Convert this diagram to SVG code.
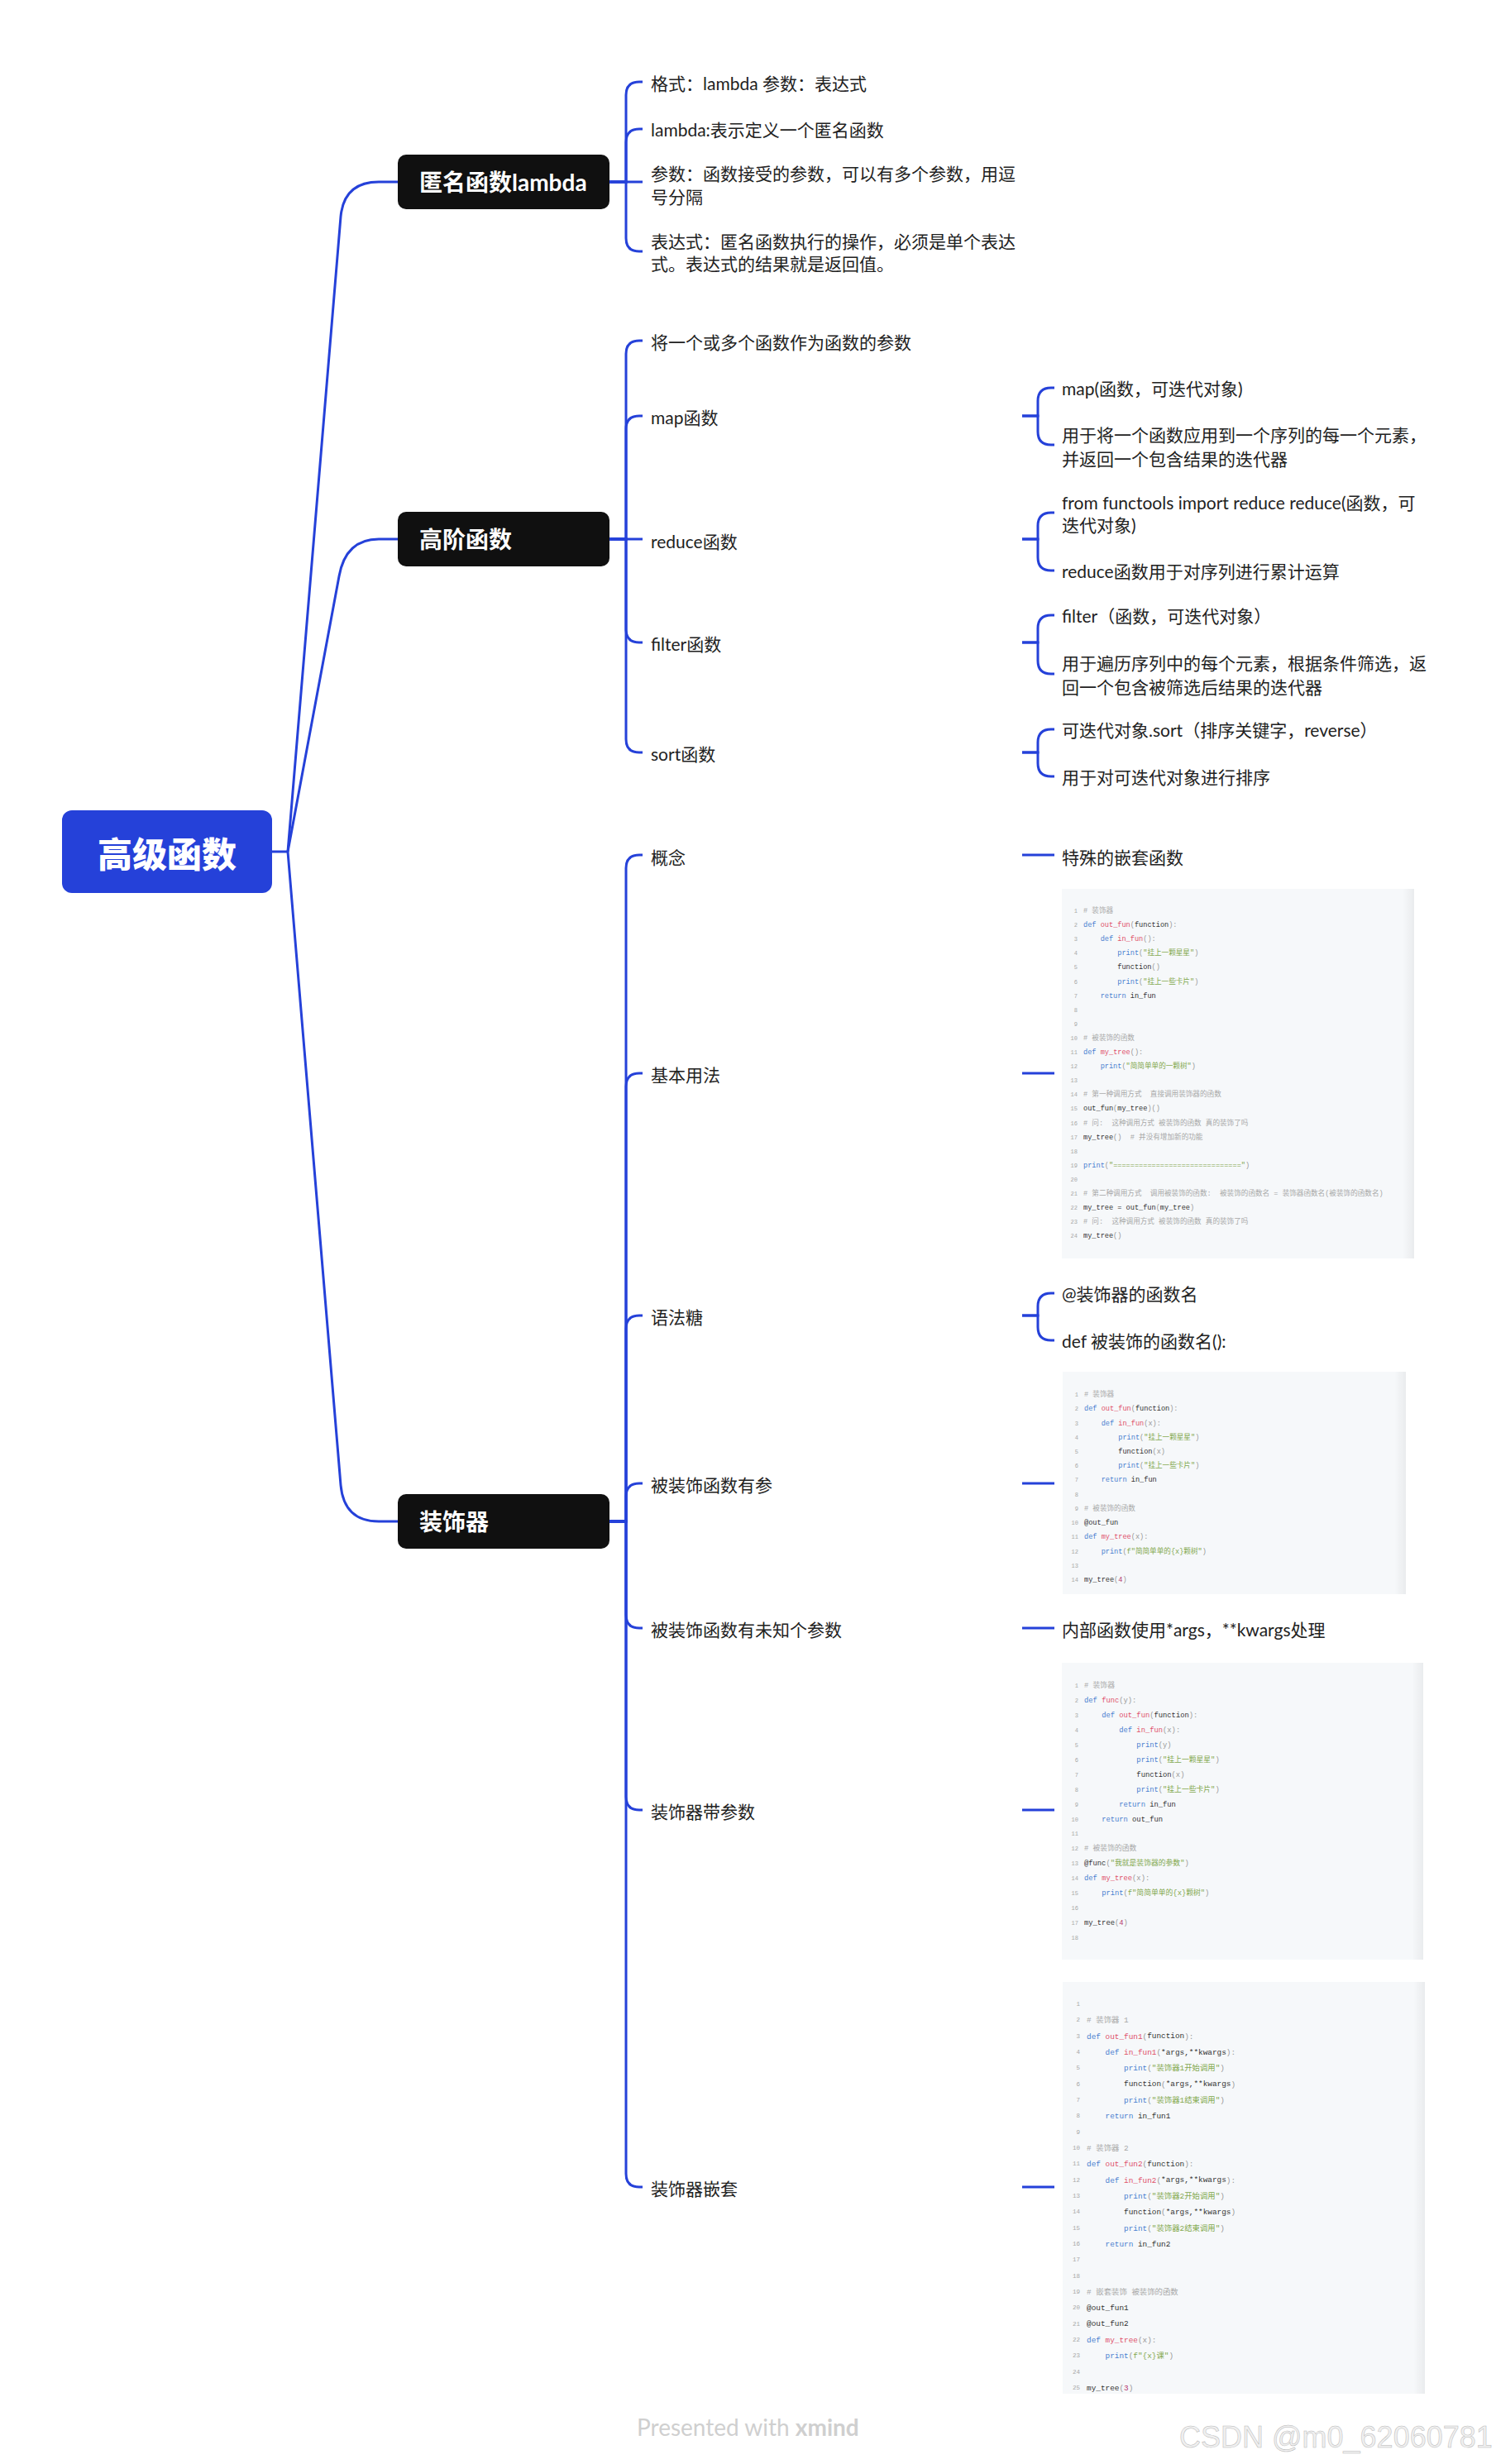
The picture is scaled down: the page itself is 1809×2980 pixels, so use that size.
<svg xmlns="http://www.w3.org/2000/svg" width="1809" height="2980" viewBox="0 0 1809 2980">
<style>
.ln{fill:none;stroke:#2541d9;stroke-width:3}
.t{font-family:Lato,"Noto Sans CJK SC",sans-serif;font-size:21px;fill:#222;dominant-baseline:central}
.bx{fill:#101010}
.bt{font-family:Lato,"Noto Sans CJK SC",sans-serif;font-size:28px;font-weight:700;fill:#fff;dominant-baseline:central}
.rt{font-family:"Noto Sans CJK SC",sans-serif;font-size:42px;font-weight:900;fill:#fff;dominant-baseline:central;text-anchor:middle}
.cb{fill:#f6f8fa}
.cd{font-family:"Liberation Mono","Noto Sans CJK SC",monospace;fill:#333;dominant-baseline:central;white-space:pre}
.k{fill:#4a7fd0}.f{fill:#e0516b}.s{fill:#83a84e}.c{fill:#a8a8a8}.p{fill:#999}.n{fill:#b5386f}
.nm{font-family:"Liberation Mono",monospace;font-size:7px;fill:#a8a8a8;text-anchor:end;dominant-baseline:central}
</style>
<defs>
<linearGradient id="sh" x1="0" y1="0" x2="1" y2="0">
<stop offset="0" stop-color="#000" stop-opacity="0"/>
<stop offset="1" stop-color="#000" stop-opacity="0.05"/>
</linearGradient>
</defs>
<rect width="1809" height="2980" fill="#fff"/>

<g id="connectors">
<path class="ln" d="M329,1030 H348"/>
<path class="ln" d="M348,1030 L412,262 Q416,220 458,220 H481"/>
<path class="ln" d="M348,1030 L410,697 Q418,652 458,652 H481"/>
<path class="ln" d="M348,1030 L412,1796 Q416,1840 458,1840 H481"/>
<path class="ln" d="M737,220 H757 V115 Q757,99 773,99 H777"/>
<path class="ln" d="M737,220 H757 V172 Q757,156 773,156 H777"/>
<path class="ln" d="M737,220 H777"/>
<path class="ln" d="M737,220 H757 V288 Q757,304 773,304 H777"/>
<path class="ln" d="M737,652 H757 V428 Q757,412 773,412 H777"/>
<path class="ln" d="M737,652 H757 V519 Q757,503 773,503 H777"/>
<path class="ln" d="M737,652 H777"/>
<path class="ln" d="M737,652 H757 V761 Q757,777 773,777 H777"/>
<path class="ln" d="M737,652 H757 V894 Q757,910 773,910 H777"/>
<path class="ln" d="M737,1840 H757 V1050 Q757,1034 773,1034 H777"/>
<path class="ln" d="M737,1840 H757 V1314 Q757,1298 773,1298 H777"/>
<path class="ln" d="M737,1840 H757 V1607 Q757,1591 773,1591 H777"/>
<path class="ln" d="M737,1840 H757 V1810 Q757,1794 773,1794 H777"/>
<path class="ln" d="M737,1840 H757 V1953 Q757,1969 773,1969 H777"/>
<path class="ln" d="M737,1840 H757 V2173 Q757,2189 773,2189 H777"/>
<path class="ln" d="M737,1840 H757 V2629 Q757,2645 773,2645 H777"/>
<path class="ln" d="M1236,503 H1255 V485 Q1255,469 1271,469 H1275"/>
<path class="ln" d="M1236,503 H1255 V522 Q1255,538 1271,538 H1275"/>
<path class="ln" d="M1236,652 H1255 V636 Q1255,620 1271,620 H1275"/>
<path class="ln" d="M1236,652 H1255 V674 Q1255,690 1271,690 H1275"/>
<path class="ln" d="M1236,777 H1255 V760 Q1255,744 1271,744 H1275"/>
<path class="ln" d="M1236,777 H1255 V799 Q1255,815 1271,815 H1275"/>
<path class="ln" d="M1236,910 H1255 V898 Q1255,882 1271,882 H1275"/>
<path class="ln" d="M1236,910 H1255 V923 Q1255,939 1271,939 H1275"/>
<path class="ln" d="M1236,1034 H1275"/>
<path class="ln" d="M1236,1298 H1275"/>
<path class="ln" d="M1236,1591 H1255 V1580 Q1255,1564 1271,1564 H1275"/>
<path class="ln" d="M1236,1591 H1255 V1605 Q1255,1621 1271,1621 H1275"/>
<path class="ln" d="M1236,1794 H1275"/>
<path class="ln" d="M1236,1969 H1275"/>
<path class="ln" d="M1236,2189 H1275"/>
<path class="ln" d="M1236,2645 H1275"/>
</g>

<g id="root">
<rect x="75" y="980" width="254" height="100" rx="12" fill="#2541d9"/>
<text class="rt" x="202" y="1030">高级函数</text>
</g>

<g id="lambda">
<rect class="bx" x="481" y="187" width="256" height="66" rx="10"/>
<text class="bt" x="507" y="220">匿名函数lambda</text>
</g>
<g id="lambda-c1"><text class="t" x="787" y="100">格式：lambda 参数：表达式</text></g>
<g id="lambda-c2"><text class="t" x="787" y="156">lambda:表示定义一个匿名函数</text></g>
<g id="lambda-c3"><text class="t" x="787" y="209">参数：函数接受的参数，可以有多个参数，用逗</text><text class="t" x="787" y="237">号分隔</text></g>
<g id="lambda-c4"><text class="t" x="787" y="291">表达式：匿名函数执行的操作，必须是单个表达</text><text class="t" x="787" y="318">式。表达式的结果就是返回值。</text></g>

<g id="higher">
<rect class="bx" x="481" y="619" width="256" height="66" rx="10"/>
<text class="bt" x="507" y="652">高阶函数</text>
</g>
<g id="h-c1"><text class="t" x="787" y="413">将一个或多个函数作为函数的参数</text></g>
<g id="h-map"><text class="t" x="787" y="504">map函数</text></g>
<g id="h-reduce"><text class="t" x="787" y="654">reduce函数</text></g>
<g id="h-filter"><text class="t" x="787" y="778">filter函数</text></g>
<g id="h-sort"><text class="t" x="787" y="911">sort函数</text></g>
<g id="map-1"><text class="t" x="1284" y="469">map(函数，可迭代对象)</text></g>
<g id="map-2"><text class="t" x="1284" y="525">用于将一个函数应用到一个序列的每一个元素，</text><text class="t" x="1284" y="554">并返回一个包含结果的迭代器</text></g>
<g id="reduce-1"><text class="t" x="1284" y="607">from functools import reduce reduce(函数，可</text><text class="t" x="1284" y="634">迭代对象)</text></g>
<g id="reduce-2"><text class="t" x="1284" y="690">reduce函数用于对序列进行累计运算</text></g>
<g id="filter-1"><text class="t" x="1284" y="744">filter（函数，可迭代对象）</text></g>
<g id="filter-2"><text class="t" x="1284" y="801">用于遍历序列中的每个元素，根据条件筛选，返</text><text class="t" x="1284" y="830">回一个包含被筛选后结果的迭代器</text></g>
<g id="sort-1"><text class="t" x="1284" y="882">可迭代对象.sort（排序关键字，reverse）</text></g>
<g id="sort-2"><text class="t" x="1284" y="939">用于对可迭代对象进行排序</text></g>

<g id="decorator">
<rect class="bx" x="481" y="1807" width="256" height="66" rx="10"/>
<text class="bt" x="507" y="1840">装饰器</text>
</g>
<g id="d-concept"><text class="t" x="787" y="1036">概念</text></g>
<g id="d-basic"><text class="t" x="787" y="1299">基本用法</text></g>
<g id="d-sugar"><text class="t" x="787" y="1592">语法糖</text></g>
<g id="d-param"><text class="t" x="787" y="1795">被装饰函数有参</text></g>
<g id="d-unknown"><text class="t" x="787" y="1970">被装饰函数有未知个参数</text></g>
<g id="d-decparam"><text class="t" x="787" y="2190">装饰器带参数</text></g>
<g id="d-nest"><text class="t" x="787" y="2646">装饰器嵌套</text></g>
<g id="concept-1"><text class="t" x="1284" y="1036">特殊的嵌套函数</text></g>
<g id="sugar-1"><text class="t" x="1284" y="1564">@装饰器的函数名</text></g>
<g id="sugar-2"><text class="t" x="1284" y="1621">def 被装饰的函数名():</text></g>
<g id="unknown-1"><text class="t" x="1284" y="1970">内部函数使用*args，**kwargs处理</text></g>

<g id="code-basic" font-size="8.6">
<rect class="cb" x="1284" y="1075" width="426" height="447"/>
<rect x="1696" y="1075" width="14" height="447" fill="url(#sh)"/>
<text class="nm"><tspan x="1303" y="1102">1</tspan><tspan x="1303" y="1119.1">2</tspan><tspan x="1303" y="1136.2">3</tspan><tspan x="1303" y="1153.3">4</tspan><tspan x="1303" y="1170.4">5</tspan><tspan x="1303" y="1187.5">6</tspan><tspan x="1303" y="1204.6">7</tspan><tspan x="1303" y="1221.7">8</tspan><tspan x="1303" y="1238.8">9</tspan><tspan x="1303" y="1255.9">10</tspan><tspan x="1303" y="1273">11</tspan><tspan x="1303" y="1290.1">12</tspan><tspan x="1303" y="1307.2">13</tspan><tspan x="1303" y="1324.3">14</tspan><tspan x="1303" y="1341.4">15</tspan><tspan x="1303" y="1358.5">16</tspan><tspan x="1303" y="1375.6">17</tspan><tspan x="1303" y="1392.7">18</tspan><tspan x="1303" y="1409.8">19</tspan><tspan x="1303" y="1426.9">20</tspan><tspan x="1303" y="1444">21</tspan><tspan x="1303" y="1461.1">22</tspan><tspan x="1303" y="1478.2">23</tspan><tspan x="1303" y="1495.3">24</tspan></text>
<text class="cd" xml:space="preserve" x="1310" y="1102"><tspan class="c"># 装饰器</tspan></text>
<text class="cd" xml:space="preserve" x="1310" y="1119.1"><tspan class="k">def</tspan> <tspan class="f">out_fun</tspan><tspan class="p">(</tspan>function<tspan class="p">):</tspan></text>
<text class="cd" xml:space="preserve" x="1310" y="1136.2">    <tspan class="k">def</tspan> <tspan class="f">in_fun</tspan><tspan class="p">():</tspan></text>
<text class="cd" xml:space="preserve" x="1310" y="1153.3">        <tspan class="k">print</tspan><tspan class="p">(</tspan><tspan class="s">"挂上一颗星星"</tspan><tspan class="p">)</tspan></text>
<text class="cd" xml:space="preserve" x="1310" y="1170.4">        function<tspan class="p">()</tspan></text>
<text class="cd" xml:space="preserve" x="1310" y="1187.5">        <tspan class="k">print</tspan><tspan class="p">(</tspan><tspan class="s">"挂上一些卡片"</tspan><tspan class="p">)</tspan></text>
<text class="cd" xml:space="preserve" x="1310" y="1204.6">    <tspan class="k">return</tspan> in_fun</text>
<text class="cd" xml:space="preserve" x="1310" y="1255.9"><tspan class="c"># 被装饰的函数</tspan></text>
<text class="cd" xml:space="preserve" x="1310" y="1273"><tspan class="k">def</tspan> <tspan class="f">my_tree</tspan><tspan class="p">():</tspan></text>
<text class="cd" xml:space="preserve" x="1310" y="1290.1">    <tspan class="k">print</tspan><tspan class="p">(</tspan><tspan class="s">"简简单单的一颗树"</tspan><tspan class="p">)</tspan></text>
<text class="cd" xml:space="preserve" x="1310" y="1324.3"><tspan class="c"># 第一种调用方式  直接调用装饰器的函数</tspan></text>
<text class="cd" xml:space="preserve" x="1310" y="1341.4">out_fun<tspan class="p">(</tspan>my_tree<tspan class="p">)()</tspan></text>
<text class="cd" xml:space="preserve" x="1310" y="1358.5"><tspan class="c"># 问:  这种调用方式 被装饰的函数 真的装饰了吗</tspan></text>
<text class="cd" xml:space="preserve" x="1310" y="1375.6">my_tree<tspan class="p">()</tspan>  <tspan class="c"># 并没有增加新的功能</tspan></text>
<text class="cd" xml:space="preserve" x="1310" y="1409.8"><tspan class="k">print</tspan><tspan class="p">(</tspan><tspan class="s">"=============================="</tspan><tspan class="p">)</tspan></text>
<text class="cd" xml:space="preserve" x="1310" y="1444"><tspan class="c"># 第二种调用方式  调用被装饰的函数:  被装饰的函数名 = 装饰器函数名(被装饰的函数名)</tspan></text>
<text class="cd" xml:space="preserve" x="1310" y="1461.1">my_tree = out_fun<tspan class="p">(</tspan>my_tree<tspan class="p">)</tspan></text>
<text class="cd" xml:space="preserve" x="1310" y="1478.2"><tspan class="c"># 问:  这种调用方式 被装饰的函数 真的装饰了吗</tspan></text>
<text class="cd" xml:space="preserve" x="1310" y="1495.3">my_tree<tspan class="p">()</tspan></text>
</g>

<g id="code-param" font-size="8.6">
<rect class="cb" x="1285" y="1659" width="415" height="269"/>
<rect x="1686" y="1659" width="14" height="269" fill="url(#sh)"/>
<text class="nm"><tspan x="1304" y="1687">1</tspan><tspan x="1304" y="1704.2">2</tspan><tspan x="1304" y="1721.5">3</tspan><tspan x="1304" y="1738.7">4</tspan><tspan x="1304" y="1755.9">5</tspan><tspan x="1304" y="1773.2">6</tspan><tspan x="1304" y="1790.4">7</tspan><tspan x="1304" y="1807.6">8</tspan><tspan x="1304" y="1824.8">9</tspan><tspan x="1304" y="1842.1">10</tspan><tspan x="1304" y="1859.3">11</tspan><tspan x="1304" y="1876.5">12</tspan><tspan x="1304" y="1893.8">13</tspan><tspan x="1304" y="1911">14</tspan></text>
<text class="cd" xml:space="preserve" x="1311" y="1687"><tspan class="c"># 装饰器</tspan></text>
<text class="cd" xml:space="preserve" x="1311" y="1704.2"><tspan class="k">def</tspan> <tspan class="f">out_fun</tspan><tspan class="p">(</tspan>function<tspan class="p">):</tspan></text>
<text class="cd" xml:space="preserve" x="1311" y="1721.5">    <tspan class="k">def</tspan> <tspan class="f">in_fun</tspan><tspan class="p">(x):</tspan></text>
<text class="cd" xml:space="preserve" x="1311" y="1738.7">        <tspan class="k">print</tspan><tspan class="p">(</tspan><tspan class="s">"挂上一颗星星"</tspan><tspan class="p">)</tspan></text>
<text class="cd" xml:space="preserve" x="1311" y="1755.9">        function<tspan class="p">(x)</tspan></text>
<text class="cd" xml:space="preserve" x="1311" y="1773.2">        <tspan class="k">print</tspan><tspan class="p">(</tspan><tspan class="s">"挂上一些卡片"</tspan><tspan class="p">)</tspan></text>
<text class="cd" xml:space="preserve" x="1311" y="1790.4">    <tspan class="k">return</tspan> in_fun</text>
<text class="cd" xml:space="preserve" x="1311" y="1824.8"><tspan class="c"># 被装饰的函数</tspan></text>
<text class="cd" xml:space="preserve" x="1311" y="1842.1">@out_fun</text>
<text class="cd" xml:space="preserve" x="1311" y="1859.3"><tspan class="k">def</tspan> <tspan class="f">my_tree</tspan><tspan class="p">(x):</tspan></text>
<text class="cd" xml:space="preserve" x="1311" y="1876.5">    <tspan class="k">print</tspan><tspan class="p">(</tspan><tspan class="s">f"简简单单的{x}颗树"</tspan><tspan class="p">)</tspan></text>
<text class="cd" xml:space="preserve" x="1311" y="1911">my_tree<tspan class="p">(</tspan><tspan class="n">4</tspan><tspan class="p">)</tspan></text>
</g>

<g id="code-decparam" font-size="8.8">
<rect class="cb" x="1284" y="2011" width="437" height="359"/>
<rect x="1707" y="2011" width="14" height="359" fill="url(#sh)"/>
<text class="nm"><tspan x="1304" y="2039">1</tspan><tspan x="1304" y="2056.9">2</tspan><tspan x="1304" y="2074.9">3</tspan><tspan x="1304" y="2092.8">4</tspan><tspan x="1304" y="2110.8">5</tspan><tspan x="1304" y="2128.7">6</tspan><tspan x="1304" y="2146.6">7</tspan><tspan x="1304" y="2164.6">8</tspan><tspan x="1304" y="2182.5">9</tspan><tspan x="1304" y="2200.5">10</tspan><tspan x="1304" y="2218.4">11</tspan><tspan x="1304" y="2236.3">12</tspan><tspan x="1304" y="2254.3">13</tspan><tspan x="1304" y="2272.2">14</tspan><tspan x="1304" y="2290.2">15</tspan><tspan x="1304" y="2308.1">16</tspan><tspan x="1304" y="2326">17</tspan><tspan x="1304" y="2344">18</tspan></text>
<text class="cd" xml:space="preserve" x="1311" y="2039"><tspan class="c"># 装饰器</tspan></text>
<text class="cd" xml:space="preserve" x="1311" y="2056.9"><tspan class="k">def</tspan> <tspan class="f">func</tspan><tspan class="p">(y):</tspan></text>
<text class="cd" xml:space="preserve" x="1311" y="2074.9">    <tspan class="k">def</tspan> <tspan class="f">out_fun</tspan><tspan class="p">(</tspan>function<tspan class="p">):</tspan></text>
<text class="cd" xml:space="preserve" x="1311" y="2092.8">        <tspan class="k">def</tspan> <tspan class="f">in_fun</tspan><tspan class="p">(x):</tspan></text>
<text class="cd" xml:space="preserve" x="1311" y="2110.8">            <tspan class="k">print</tspan><tspan class="p">(y)</tspan></text>
<text class="cd" xml:space="preserve" x="1311" y="2128.7">            <tspan class="k">print</tspan><tspan class="p">(</tspan><tspan class="s">"挂上一颗星星"</tspan><tspan class="p">)</tspan></text>
<text class="cd" xml:space="preserve" x="1311" y="2146.6">            function<tspan class="p">(x)</tspan></text>
<text class="cd" xml:space="preserve" x="1311" y="2164.6">            <tspan class="k">print</tspan><tspan class="p">(</tspan><tspan class="s">"挂上一些卡片"</tspan><tspan class="p">)</tspan></text>
<text class="cd" xml:space="preserve" x="1311" y="2182.5">        <tspan class="k">return</tspan> in_fun</text>
<text class="cd" xml:space="preserve" x="1311" y="2200.5">    <tspan class="k">return</tspan> out_fun</text>
<text class="cd" xml:space="preserve" x="1311" y="2236.3"><tspan class="c"># 被装饰的函数</tspan></text>
<text class="cd" xml:space="preserve" x="1311" y="2254.3">@func<tspan class="p">(</tspan><tspan class="s">"我就是装饰器的参数"</tspan><tspan class="p">)</tspan></text>
<text class="cd" xml:space="preserve" x="1311" y="2272.2"><tspan class="k">def</tspan> <tspan class="f">my_tree</tspan><tspan class="p">(x):</tspan></text>
<text class="cd" xml:space="preserve" x="1311" y="2290.2">    <tspan class="k">print</tspan><tspan class="p">(</tspan><tspan class="s">f"简简单单的{x}颗树"</tspan><tspan class="p">)</tspan></text>
<text class="cd" xml:space="preserve" x="1311" y="2326">my_tree<tspan class="p">(</tspan><tspan class="n">4</tspan><tspan class="p">)</tspan></text>
</g>

<g id="code-nest" font-size="9.4">
<rect class="cb" x="1285" y="2397" width="438" height="498"/>
<rect x="1709" y="2397" width="14" height="498" fill="url(#sh)"/>
<text class="nm" style="font-size:7.5px"><tspan x="1306" y="2424">1</tspan><tspan x="1306" y="2443.3">2</tspan><tspan x="1306" y="2462.7">3</tspan><tspan x="1306" y="2482">4</tspan><tspan x="1306" y="2501.3">5</tspan><tspan x="1306" y="2520.7">6</tspan><tspan x="1306" y="2540">7</tspan><tspan x="1306" y="2559.3">8</tspan><tspan x="1306" y="2578.7">9</tspan><tspan x="1306" y="2598">10</tspan><tspan x="1306" y="2617.3">11</tspan><tspan x="1306" y="2636.7">12</tspan><tspan x="1306" y="2656">13</tspan><tspan x="1306" y="2675.3">14</tspan><tspan x="1306" y="2694.7">15</tspan><tspan x="1306" y="2714">16</tspan><tspan x="1306" y="2733.3">17</tspan><tspan x="1306" y="2752.7">18</tspan><tspan x="1306" y="2772">19</tspan><tspan x="1306" y="2791.3">20</tspan><tspan x="1306" y="2810.7">21</tspan><tspan x="1306" y="2830">22</tspan><tspan x="1306" y="2849.3">23</tspan><tspan x="1306" y="2868.7">24</tspan><tspan x="1306" y="2888">25</tspan></text>
<text class="cd" xml:space="preserve" x="1314" y="2443.3"><tspan class="c"># 装饰器 1</tspan></text>
<text class="cd" xml:space="preserve" x="1314" y="2462.7"><tspan class="k">def</tspan> <tspan class="f">out_fun1</tspan><tspan class="p">(</tspan>function<tspan class="p">):</tspan></text>
<text class="cd" xml:space="preserve" x="1314" y="2482">    <tspan class="k">def</tspan> <tspan class="f">in_fun1</tspan><tspan class="p">(</tspan>*args,**kwargs<tspan class="p">):</tspan></text>
<text class="cd" xml:space="preserve" x="1314" y="2501.3">        <tspan class="k">print</tspan><tspan class="p">(</tspan><tspan class="s">"装饰器1开始调用"</tspan><tspan class="p">)</tspan></text>
<text class="cd" xml:space="preserve" x="1314" y="2520.7">        function<tspan class="p">(</tspan>*args,**kwargs<tspan class="p">)</tspan></text>
<text class="cd" xml:space="preserve" x="1314" y="2540">        <tspan class="k">print</tspan><tspan class="p">(</tspan><tspan class="s">"装饰器1结束调用"</tspan><tspan class="p">)</tspan></text>
<text class="cd" xml:space="preserve" x="1314" y="2559.3">    <tspan class="k">return</tspan> in_fun1</text>
<text class="cd" xml:space="preserve" x="1314" y="2598"><tspan class="c"># 装饰器 2</tspan></text>
<text class="cd" xml:space="preserve" x="1314" y="2617.3"><tspan class="k">def</tspan> <tspan class="f">out_fun2</tspan><tspan class="p">(</tspan>function<tspan class="p">):</tspan></text>
<text class="cd" xml:space="preserve" x="1314" y="2636.7">    <tspan class="k">def</tspan> <tspan class="f">in_fun2</tspan><tspan class="p">(</tspan>*args,**kwargs<tspan class="p">):</tspan></text>
<text class="cd" xml:space="preserve" x="1314" y="2656">        <tspan class="k">print</tspan><tspan class="p">(</tspan><tspan class="s">"装饰器2开始调用"</tspan><tspan class="p">)</tspan></text>
<text class="cd" xml:space="preserve" x="1314" y="2675.3">        function<tspan class="p">(</tspan>*args,**kwargs<tspan class="p">)</tspan></text>
<text class="cd" xml:space="preserve" x="1314" y="2694.7">        <tspan class="k">print</tspan><tspan class="p">(</tspan><tspan class="s">"装饰器2结束调用"</tspan><tspan class="p">)</tspan></text>
<text class="cd" xml:space="preserve" x="1314" y="2714">    <tspan class="k">return</tspan> in_fun2</text>
<text class="cd" xml:space="preserve" x="1314" y="2772"><tspan class="c"># 嵌套装饰 被装饰的函数</tspan></text>
<text class="cd" xml:space="preserve" x="1314" y="2791.3">@out_fun1</text>
<text class="cd" xml:space="preserve" x="1314" y="2810.7">@out_fun2</text>
<text class="cd" xml:space="preserve" x="1314" y="2830"><tspan class="k">def</tspan> <tspan class="f">my_tree</tspan><tspan class="p">(x):</tspan></text>
<text class="cd" xml:space="preserve" x="1314" y="2849.3">    <tspan class="k">print</tspan><tspan class="p">(</tspan><tspan class="s">f"{x}课"</tspan><tspan class="p">)</tspan></text>
<text class="cd" xml:space="preserve" x="1314" y="2888">my_tree<tspan class="p">(</tspan><tspan class="n">3</tspan><tspan class="p">)</tspan></text>
</g>

<g id="footer">
<text x="770" y="2935" font-family="Lato,sans-serif" font-size="28" fill="#cfcfcf" dominant-baseline="central">Presented with <tspan font-weight="700">xmind</tspan></text>
<text x="1426" y="2960" font-family="Liberation Sans,Arial,sans-serif" font-size="36" fill="#f0f0f0" stroke="#b8b8b8" stroke-width="0.5">CSDN @m0_62060781</text>
</g>
</svg>
